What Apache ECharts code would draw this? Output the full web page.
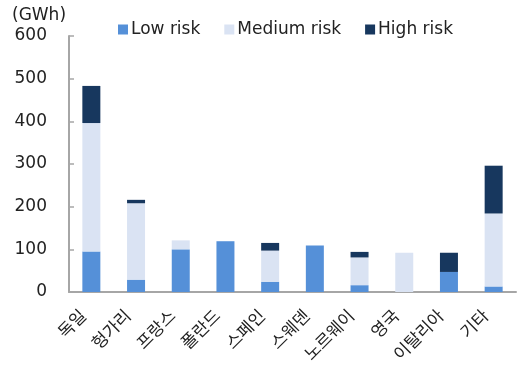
<!DOCTYPE html>
<html>
<head>
<meta charset="utf-8">
<script src="https://cdn.jsdelivr.net/npm/echarts@6/dist/echarts.min.js"></script>
<style>
html,body{margin:0;padding:0;background:#fff;}
#chart{width:522px;height:370px;}
</style>
</head>
<body>
<div id="chart"></div>
<script>
// Battery storage capacity by country, split by risk level (GWh)
const categories = ['독일', '헝가리', '프랑스', '폴란드', '스페인', '스웨덴', '노르웨이', '영국', '이탈리아', '기타'];
const lowRisk    = [95, 29, 100, 119, 24, 109, 16, 0, 47, 13];
const mediumRisk = [301, 179, 21, 0, 73, 0, 65, 92, 0, 171];
const highRisk   = [87, 8, 0, 0, 18, 0, 13, 0, 45, 112];
const seriesNames = ['Low risk', 'Medium risk', 'High risk'];
const yTicks = [0, 100, 200, 300, 400, 500, 600];

const LATIN = '"DejaVu Sans", "Noto Sans CJK KR", sans-serif';
const KOREAN = '"Noto Sans CJK KR", sans-serif';
const colors = ['#5590D8', '#DAE3F3', '#17375E'];

const chart = echarts.init(document.getElementById('chart'));
chart.setOption({
  animation: false,
  grid: { left: 69, right: 6, top: 36, bottom: 78 },
  legend: {
    top: 16,
    left: 113,
    itemWidth: 10,
    itemHeight: 10,
    itemGap: 24,
    icon: 'rect',
    textStyle: { fontSize: 17, color: '#222', fontFamily: LATIN, padding: [0, 0, 0, -2] },
    data: seriesNames
  },
  graphic: [{
    type: 'text',
    left: 12,
    top: 7,
    style: { text: '(GWh)', fontSize: 17, fill: '#222', fontFamily: LATIN }
  }],
  xAxis: {
    type: 'category',
    data: categories,
    axisLine: { lineStyle: { color: '#a6a6a6', width: 2 } },
    axisTick: { inside: true, length: 5, lineStyle: { color: '#a6a6a6', width: 1.5 } },
    axisLabel: {
      rotate: 45,
      fontSize: 17,
      color: '#222',
      margin: 12,
      padding: [0, 12, 0, 0],
      fontFamily: KOREAN,
      interval: 0
    }
  },
  yAxis: {
    type: 'value',
    min: yTicks[0],
    max: yTicks[yTicks.length - 1],
    interval: 100,
    splitLine: { show: false },
    axisLine: { show: true, lineStyle: { color: '#a6a6a6', width: 2 } },
    axisTick: { show: true, inside: true, length: 5, lineStyle: { color: '#a6a6a6', width: 1.5 } },
    axisLabel: { fontSize: 17, color: '#222', margin: 22, fontFamily: LATIN }
  },
  series: [lowRisk, mediumRisk, highRisk].map((vals, i) => ({
    name: seriesNames[i],
    type: 'bar',
    stack: 'risk',
    barWidth: 18,
    data: vals,
    itemStyle: { color: colors[i] }
  }))
});
</script>
</body>
</html>
